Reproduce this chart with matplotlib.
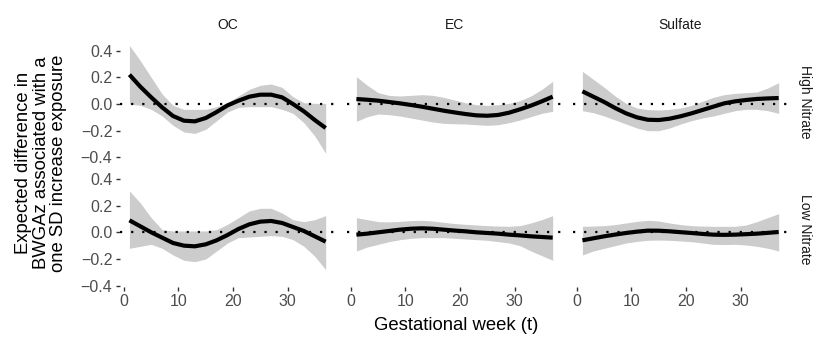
import matplotlib
matplotlib.use("Agg")
import matplotlib.pyplot as plt  # noqa: E402

plt.rcParams["font.family"] = ["Liberation Sans", "DejaVu Sans"]

# facet labels
POLLUTANTS = ["OC", "EC", "Sulfate"]
NITRATE = ["High Nitrate", "Low Nitrate"]

WEEKS = [1, 3, 5, 7, 9, 11, 13, 15, 17, 19, 21, 23, 25, 27, 29, 31, 33, 35, 37]

# OC, high nitrate
OC_HIGH_EST = [0.22, 0.13, 0.05, -0.025, -0.09, -0.125, -0.13, -0.105, -0.06, -0.01,
               0.025, 0.055, 0.07, 0.07, 0.05, 0.0, -0.055, -0.12, -0.18]
OC_HIGH_LO = [0.0, -0.01, -0.04, -0.09, -0.16, -0.21, -0.22, -0.19, -0.125, -0.06,
              -0.025, -0.02, -0.02, -0.02, -0.04, -0.07, -0.14, -0.24, -0.37]
OC_HIGH_HI = [0.44, 0.325, 0.2, 0.075, -0.01, -0.04, -0.04, -0.04, -0.02, 0.01,
              0.06, 0.11, 0.14, 0.15, 0.125, 0.055, 0.01, 0.005, 0.005]

# OC, low nitrate
OC_LOW_EST = [0.09, 0.045, 0.0, -0.04, -0.08, -0.1, -0.105, -0.09, -0.06, -0.02,
              0.025, 0.06, 0.08, 0.085, 0.07, 0.04, 0.01, -0.03, -0.07]
OC_LOW_LO = [-0.12, -0.105, -0.09, -0.12, -0.17, -0.21, -0.22, -0.2, -0.14, -0.08,
             -0.04, -0.035, -0.03, -0.025, -0.03, -0.055, -0.105, -0.18, -0.28]
OC_LOW_HI = [0.31, 0.22, 0.11, 0.02, 0.01, 0.01, 0.01, 0.01, 0.02, 0.06,
             0.11, 0.16, 0.18, 0.18, 0.145, 0.095, 0.08, 0.095, 0.125]

# EC, high nitrate
EC_HIGH_EST = [0.0375, 0.032, 0.025, 0.015, 0.005, -0.007, -0.02, -0.035, -0.05, -0.063,
               -0.075, -0.085, -0.088, -0.082, -0.065, -0.04, -0.012, 0.02, 0.055]
EC_HIGH_LO = [-0.13, -0.095, -0.075, -0.08, -0.09, -0.105, -0.12, -0.135, -0.145, -0.148,
              -0.15, -0.155, -0.16, -0.155, -0.14, -0.12, -0.095, -0.07, -0.055]
EC_HIGH_HI = [0.205, 0.14, 0.085, 0.065, 0.06, 0.065, 0.07, 0.065, 0.05, 0.03,
              0.01, -0.005, -0.01, -0.005, 0.005, 0.025, 0.06, 0.11, 0.17]

# EC, low nitrate
EC_LOW_EST = [-0.0175, -0.01, 0.0, 0.01, 0.02, 0.027, 0.03, 0.027, 0.02, 0.013,
              0.0075, 0.0, -0.005, -0.01, -0.0175, -0.023, -0.03, -0.035, -0.04]
EC_LOW_LO = [-0.14, -0.11, -0.09, -0.07, -0.055, -0.045, -0.04, -0.04, -0.04, -0.045,
             -0.05, -0.055, -0.06, -0.07, -0.08, -0.1, -0.14, -0.175, -0.21]
EC_LOW_HI = [0.11, 0.095, 0.08, 0.078, 0.082, 0.088, 0.09, 0.085, 0.075, 0.066,
             0.06, 0.055, 0.05, 0.047, 0.045, 0.05, 0.07, 0.095, 0.125]

# Sulfate, high nitrate
SU_HIGH_EST = [0.095, 0.055, 0.015, -0.03, -0.07, -0.1, -0.118, -0.12, -0.11, -0.092,
               -0.07, -0.045, -0.02, 0.005, 0.02, 0.03, 0.038, 0.042, 0.045]
SU_HIGH_LO = [-0.05, -0.065, -0.09, -0.12, -0.15, -0.18, -0.2, -0.2, -0.18, -0.15,
              -0.125, -0.105, -0.09, -0.07, -0.05, -0.04, -0.04, -0.05, -0.07]
SU_HIGH_HI = [0.245, 0.185, 0.125, 0.06, 0.005, -0.03, -0.042, -0.045, -0.04, -0.03,
              -0.01, 0.02, 0.05, 0.07, 0.08, 0.085, 0.09, 0.12, 0.16]

# Sulfate, low nitrate
SU_LOW_EST = [-0.06, -0.045, -0.03, -0.017, -0.005, 0.005, 0.0125, 0.012, 0.0075, 0.001,
              -0.005, -0.012, -0.0175, -0.019, -0.0175, -0.014, -0.01, -0.004, 0.0025]
SU_LOW_LO = [-0.17, -0.14, -0.12, -0.1, -0.08, -0.068, -0.06, -0.058, -0.06, -0.065,
             -0.07, -0.08, -0.09, -0.092, -0.09, -0.095, -0.105, -0.12, -0.14]
SU_LOW_HI = [0.045, 0.047, 0.05, 0.058, 0.07, 0.082, 0.09, 0.085, 0.07, 0.058,
             0.05, 0.047, 0.045, 0.045, 0.045, 0.055, 0.08, 0.11, 0.14]

PANELS = {
    (0, 0): (OC_HIGH_EST, OC_HIGH_LO, OC_HIGH_HI),
    (0, 1): (EC_HIGH_EST, EC_HIGH_LO, EC_HIGH_HI),
    (0, 2): (SU_HIGH_EST, SU_HIGH_LO, SU_HIGH_HI),
    (1, 0): (OC_LOW_EST, OC_LOW_LO, OC_LOW_HI),
    (1, 1): (EC_LOW_EST, EC_LOW_LO, EC_LOW_HI),
    (1, 2): (SU_LOW_EST, SU_LOW_LO, SU_LOW_HI),
}

W, H = 830, 346
COL_X = [(119.6, 335.5), (346.6, 562.5), (572.6, 788.5)]   # px, left/right
ROW_Y = [(44.0, 158.7), (172.3, 287.0)]                     # px, top/bottom
XLIM = (-0.8, 38.8)
YLIM = (-0.41, 0.45)
TICK_GREY = "#4d4d4d"

fig = plt.figure(figsize=(W / 100, H / 100), dpi=100)

for (r, c), (est, lo, hi) in PANELS.items():
    x0, x1 = COL_X[c]
    yt, yb = ROW_Y[r]
    ax = fig.add_axes([x0 / W, 1 - yb / H, (x1 - x0) / W, (yb - yt) / H])
    ax.fill_between(WEEKS, lo, hi, color="#cccccc", lw=0)
    ax.axhline(0, color="black", lw=1.6, ls=(0, (1, 4)))
    ax.plot(WEEKS, est, color="black", lw=3.0, solid_capstyle="butt",
            solid_joinstyle="round")
    ax.set_xlim(*XLIM)
    ax.set_ylim(*YLIM)
    for s in ax.spines.values():
        s.set_visible(False)
    ax.set_xticks([0, 10, 20, 30])
    ax.set_yticks([-0.4, -0.2, 0.0, 0.2, 0.4])
    ax.tick_params(length=3.2, width=1.0, color="#333333", labelcolor=TICK_GREY,
                   labelsize=11.5, pad=2)
    if c == 0:
        ax.set_yticklabels(["\u22120.4", "\u22120.2", "0.0", "0.2", "0.4"])
    else:
        ax.tick_params(axis="y", left=False, labelleft=False)
    if r == 1:
        ax.set_xticklabels(["0", "10", "20", "30"])
    else:
        ax.tick_params(axis="x", bottom=False, labelbottom=False)
    if r == 0:
        ax.text(0.5, 1 + 19 / (yb - yt), POLLUTANTS[c], transform=ax.transAxes,
                ha="center", va="center", fontsize=10, color="#1a1a1a")
    if c == 2:
        ax.text(1 + 16 / (x1 - x0), 0.5, NITRATE[r], transform=ax.transAxes,
                ha="center", va="center", rotation=-90, fontsize=10, color="#1a1a1a")

fig.text(41 / W, 1 - 163 / H,
         "Expected difference in\nBWGAz associated with a\none SD increase exposure",
         rotation=90, ha="center", va="center", fontsize=13.3, linespacing=1.05)
fig.text(456 / W, 1 - 326 / H, "Gestational week (t)", ha="center", va="center",
         fontsize=13.3)

fig.savefig("out.png", dpi=100)
